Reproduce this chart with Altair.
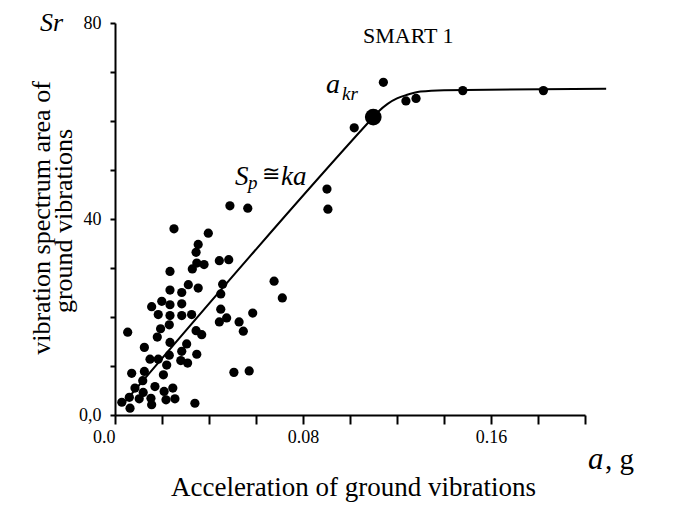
import altair as alt
import pandas as pd

SERIF = "Liberation Serif"

# ---- data ----
acc = [0.0489, 0.0565, 0.0906, 0.0902, 0.0251, 0.0397, 0.0354, 0.0345, 0.0348, 0.0379,
       0.0329, 0.0444, 0.0484, 0.0234, 0.0312, 0.0354, 0.0458, 0.0677, 0.0712, 0.0234,
       0.0284, 0.0450, 0.0156, 0.0199, 0.0234, 0.0284, 0.0450, 0.0184, 0.0234, 0.0284,
       0.0326, 0.0586, 0.0444, 0.0475, 0.0528, 0.0546, 0.0231, 0.0194, 0.0054, 0.0345,
       0.0369, 0.0180, 0.0234, 0.0305, 0.0125, 0.0284, 0.0231, 0.0149, 0.0184, 0.0348,
       0.0280, 0.0309, 0.0220, 0.0506, 0.0571, 0.0071, 0.0125, 0.0206, 0.0118, 0.0085,
       0.0170, 0.0246, 0.0120, 0.0209, 0.0061, 0.0103, 0.0153, 0.0217, 0.0255, 0.0156,
       0.0029, 0.0064, 0.0340,
       0.1018, 0.1142, 0.1238, 0.1281, 0.1480, 0.1823]
area = [42.7, 42.2, 42.0, 46.1, 38.0, 37.1, 34.8, 33.2, 31.0, 30.7,
        29.8, 31.5, 31.7, 29.3, 26.6, 25.9, 26.7, 27.3, 23.9, 25.5,
        25.0, 24.7, 22.1, 23.2, 22.5, 22.7, 21.6, 20.5, 20.3, 20.3,
        20.5, 20.8, 19.0, 19.8, 19.0, 17.1, 18.4, 17.6, 16.9, 17.2,
        16.4, 15.9, 14.8, 14.5, 13.8, 13.0, 12.2, 11.4, 11.4, 12.4,
        11.1, 10.6, 10.2, 8.7, 9.0, 8.5, 8.9, 8.2, 7.0, 5.5,
        5.8, 5.5, 4.6, 4.8, 3.6, 3.3, 3.4, 3.1, 3.3, 2.1,
        2.6, 1.4, 2.4,
        58.6, 67.9, 64.1, 64.6, 66.2, 66.2]

curve_a = [0.003, 0.108, 0.112, 0.116, 0.120, 0.124, 0.130, 0.140, 0.209]
curve_s = [2.0, 59.8, 61.9, 63.5, 64.6, 65.3, 66.0, 66.3, 66.6]

kr_a = [0.1099]
kr_s = [60.8]

x_ticks = [0.0, 0.02, 0.04, 0.06, 0.08, 0.10, 0.12, 0.14, 0.16, 0.18, 0.20]
y_ticks = [0, 10, 20, 30, 40, 50, 60, 70, 80]

pts_df = pd.DataFrame({"a": acc, "S": area})
curve_df = pd.DataFrame({"a": curve_a, "S": curve_s})
kr_df = pd.DataFrame({"a": kr_a, "S": kr_s})

x_axis = alt.Axis(
    values=x_ticks,
    labelExpr="datum.value == 0 ? '0.0' : (abs(datum.value - 0.08) < 1e-6 ? '0.08' : (abs(datum.value - 0.16) < 1e-6 ? '0.16' : ''))",
    labelAlign={"condition": {"test": "datum.value == 0", "value": "right"}, "value": "center"},
    labelOverlap=False, labelFont=SERIF, labelFontSize=18, labelColor="black", labelPadding=4,
    tickSize=9, tickWidth=2, tickColor="black", domainWidth=2, domainColor="black", grid=False,
    title="Acceleration of ground vibrations", titleFont=SERIF, titleFontSize=27,
    titleFontWeight="normal", titleColor="black", titleX=238, titleY=80,
    titleAlign="center", titleBaseline="alphabetic",
)
y_axis = alt.Axis(
    values=y_ticks,
    labelExpr="datum.value == 0 ? '0,0' : (datum.value % 40 == 0 ? datum.label : '')",
    labelOverlap=False, labelFont=SERIF, labelFontSize=18, labelColor="black", labelPadding=9,
    tickSize=5, tickWidth=2, tickColor="black", domainWidth=2, domainColor="black", grid=False,
    title=None,
)

X = alt.X("a:Q", scale=alt.Scale(domain=[0, 0.2], nice=False, zero=False), axis=x_axis)
Y = alt.Y("S:Q", scale=alt.Scale(domain=[0, 80], nice=False, zero=False), axis=y_axis)

line = alt.Chart(curve_df).mark_line(color="black", strokeWidth=2, interpolate="monotone", clip=False).encode(x=X, y=Y)
points = alt.Chart(pts_df).mark_circle(color="black", opacity=1, size=85).encode(x=X, y=Y)
big = alt.Chart(kr_df).mark_circle(color="black", opacity=1, size=280).encode(x=X, y=Y)


def label(text, x, y, size, italic=False, font=SERIF, align="left", baseline="alphabetic", angle=0):
    return alt.Chart(pd.DataFrame({"t": [text]})).mark_text(
        text=text, font=font, fontSize=size, fontStyle="italic" if italic else "normal",
        align=align, baseline=baseline, color="black", angle=angle,
    ).encode(x=alt.value(x), y=alt.value(y))


labels = [
    label("vibration spectrum area of", -65, 195, 26, align="center", angle=270),
    label("ground vibrations", -43, 198, 26, align="center", angle=270),
    label("Sr", -75, 8, 26, italic=True),
    label("SMART 1", 248, 20, 22),
    label("a", 211, 70, 28, italic=True),
    label("kr", 227, 77, 19, italic=True),
    label("S", 120, 162, 27, italic=True),
    label("p", 133, 166, 19, italic=True),
    label("\u2245", 147, 158, 22, font="DejaVu Serif"),
    label("ka", 166, 162, 27, italic=True),
    label("a", 473, 446, 31, italic=True),
    label(", g", 490, 446, 29),
]

chart = alt.layer(line, points, big, *labels).properties(
    width=470, height=392,
    autosize=alt.AutoSizeParams(type="none"),
    padding={"left": 107, "top": 15, "right": 102, "bottom": 88},
).configure_view(stroke=None)

chart.save("out.html", embed_options={"renderer": "svg", "actions": False})
